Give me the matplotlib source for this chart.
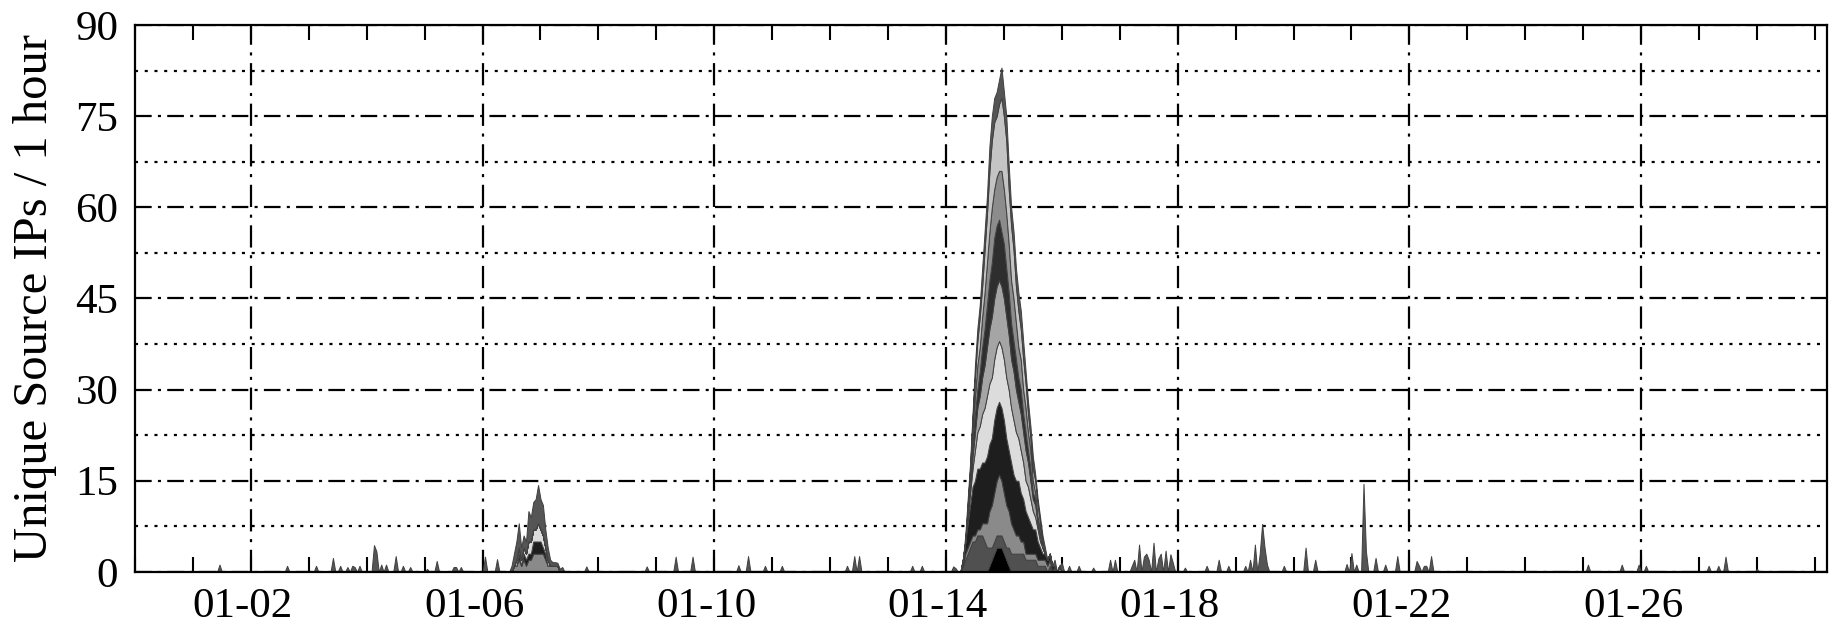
import matplotlib

matplotlib.use("Agg")

import matplotlib.dates as mdates
import matplotlib.pyplot as plt
import matplotlib.transforms as mtransforms
import numpy as np
import pandas as pd
from matplotlib.ticker import MultipleLocator

plt.rcParams["font.family"] = ["Liberation Serif", "DejaVu Serif"]
plt.rcParams["lines.scale_dashes"] = False

# hourly time axis of the capture
series_start = "2019-12-31 00:00"
series_end = "2020-01-29 05:00"

# layer colours, bottom to top
layer_colors = [
    "#000000", "#505050", "#8a8a8a", "#1e1e1e", "#dcdcdc",
    "#a5a5a5", "#2e2e2e", "#8c8c8c", "#c4c4c4", "#555555",
]

# main outbreak, hourly from 01-14 06:00
big_peak_start = "2020-01-14 06:00"
big_l1 = [0, 0, 0, 0, 0, 0, 0, 0, 0, 0, 0, 0, 1, 2, 3, 4, 4, 4, 3, 2, 1,
          0, 0, 0, 0, 0, 0, 0, 0, 0, 0, 0, 0, 0, 0, 0, 0, 0, 0, 0, 0, 0]
big_l2 = [0, 1, 2, 3, 4, 5, 5, 6, 6, 6, 5, 4, 3, 2, 2, 2, 2, 2, 2, 2, 3,
          3, 3, 3, 3, 3, 3, 2, 2, 2, 2, 2, 1, 1, 1, 1, 0, 1, 0, 1, 0, 0]
big_l3 = [0, 0, 1, 1, 1, 1, 1, 1, 1, 2, 3, 4, 6, 7, 8, 9, 10, 9, 8, 7, 6,
          5, 4, 3, 3, 2, 2, 1, 1, 1, 1, 1, 1, 1, 1, 1, 1, 1, 0, 0, 0, 1]
big_l4 = [0, 1, 2, 4, 6, 8, 9, 10, 10, 10, 10, 11, 11, 11, 12, 12, 12, 12, 12, 11, 10,
          10, 9, 9, 9, 8, 7, 7, 6, 5, 4, 4, 3, 2, 1, 1, 1, 1, 1, 0, 0, 0]
big_l5 = [0, 0, 0, 1, 2, 3, 5, 6, 7, 8, 9, 10, 10, 10, 10, 10, 10, 10, 10, 10, 10,
          9, 9, 8, 7, 7, 6, 5, 5, 4, 3, 2, 2, 1, 1, 0, 0, 0, 0, 0, 0, 0]
big_l6 = [0, 0, 0, 1, 1, 2, 3, 4, 5, 6, 7, 8, 9, 10, 10, 10, 10, 10, 10, 10, 9,
          8, 8, 7, 6, 6, 5, 5, 4, 3, 2, 2, 1, 1, 0, 0, 0, 0, 0, 0, 0, 0]
big_l7 = [0, 0, 0, 0, 1, 2, 3, 3, 4, 5, 6, 7, 8, 9, 10, 10, 10, 9, 9, 8, 7,
          6, 5, 5, 4, 4, 3, 3, 2, 2, 1, 1, 0, 0, 0, 0, 0, 0, 0, 0, 0, 0]
big_l8 = [0, 0, 0, 0, 1, 2, 3, 4, 4, 5, 6, 7, 8, 9, 8, 8, 8, 10, 9, 9, 8,
          7, 7, 6, 5, 5, 4, 4, 3, 3, 2, 1, 1, 1, 0, 0, 0, 0, 0, 0, 0, 0]
big_l9 = [0, 0, 0, 1, 1, 2, 3, 4, 5, 5, 7, 8, 10, 11, 11, 10, 11, 12, 12, 12, 9,
          9, 8, 6, 6, 5, 5, 4, 3, 2, 2, 2, 2, 1, 1, 0, 0, 0, 0, 0, 0, 0]
big_l10 = [0, 0, 1, 1, 1, 1, 2, 2, 2, 3, 3, 3, 4, 4, 4, 4, 4, 5, 4, 4, 4,
           3, 3, 3, 3, 3, 3, 2, 2, 2, 2, 1, 1, 1, 1, 1, 0, 0, 0, 1, 0, 0]

# smaller outbreak, hourly from 01-06 12:00
small_peak_start = "2020-01-06 12:00"
small_dark = [0, 0, 0, 1, 0, 1, 1, 1, 1, 2, 2, 2, 2, 1, 1, 0, 0, 0, 0, 0, 0, 0, 0]
small_gray = [0, 1, 1, 2, 1, 2, 1, 2, 2, 3, 3, 3, 3, 3, 2, 1, 1, 1, 1, 1, 0, 0, 0]
small_light = [0, 0, 1, 1, 1, 1, 1, 2, 2, 2, 2, 3, 2, 2, 1, 1, 0, 0, 0, 0, 0, 0, 0]
small_top = [1, 2, 3, 4, 2, 2, 2, 5, 4, 4.5, 5, 6.3, 5, 5, 3, 2, 1, 0.6, 0.6, 0.5,
             0.5, 0.8, 0]

# isolated spikes: hours after 12-31 00:00 and height
spike_hours = [
    35, 63, 75, 82, 85, 88, 90, 91, 93, 99, 100, 102, 104, 108, 111, 114, 121,
    125, 132, 133, 135, 145, 150, 187, 212, 224, 231, 250, 254, 261, 268, 295,
    298, 300, 322, 326, 339, 340, 384, 387, 391, 397, 404, 406, 413, 414, 416,
    418, 419, 420, 422, 424, 425, 427, 429, 430, 435, 444, 449, 453, 460, 462,
    464, 466, 467, 468, 469, 476, 485, 489, 502, 504, 506, 509, 510, 514, 518,
    523, 531, 532, 534, 535, 537, 602, 616, 623, 626, 652, 656, 659, 672,
]
spike_values = [
    1.2, 1, 1, 2.3, 1, 0.8, 1, 0.8, 1, 4.4, 3.4, 1.2, 1.2, 2.6, 1, 0.8, 0.5,
    1.8, 0.8, 0.8, 0.8, 2.5, 2.1, 0.9, 0.9, 2.5, 2.5, 1.1, 2.6, 1, 1, 1,
    2.6, 2.6, 1, 1, 0.9, 0.6, 1.5, 1, 1, 0.7, 2, 2, 1, 2, 4.5,
    2.5, 3, 2, 4.8, 2.2, 3, 3.5, 2.9, 1.5, 0.7, 1, 2, 1, 1, 2,
    4.5, 3, 7.9, 4, 1.2, 1, 4, 2, 1.3, 3.1, 1.2, 14.5, 3.4, 2.3, 1.2,
    2.6, 1.8, 1, 1, 1, 2.6, 1.2, 1.2, 1.2, 1, 1, 1, 2.5, 0.5,
]

y_ticks = [0, 15, 30, 45, 60, 75, 90]
x_label_days = [2, 6, 10, 14, 18, 22, 26]


def build_layers() -> tuple:
    """Place the read-off values on the hourly time axis."""

    times = pd.date_range(series_start, series_end, freq="h")
    layers = np.zeros((len(layer_colors), len(times)))

    big = [big_l1, big_l2, big_l3, big_l4, big_l5,
           big_l6, big_l7, big_l8, big_l9, big_l10]
    offset = times.get_loc(pd.Timestamp(big_peak_start))
    for k, values in enumerate(big):
        layers[k, offset:offset + len(values)] += values

    small = {3: small_dark, 2: small_gray, 4: small_light, 9: small_top}
    offset = times.get_loc(pd.Timestamp(small_peak_start))
    for k, values in small.items():
        layers[k, offset:offset + len(values)] += values

    for hour, value in zip(spike_hours, spike_values):
        layers[9, hour] += value

    return times, layers


times, layers = build_layers()

fig = plt.figure(figsize=(18.37, 6.34), dpi=100)
ax = fig.add_axes([0.0735, 0.098, 0.921, 0.8625])

ax.stackplot(
    times,
    layers,
    colors=layer_colors,
    edgecolor="#404040",
    linewidth=0.7,
    zorder=3,
)

ax.set_xlim(times[0], times[-1])
ax.set_ylim(0, 90)
ax.set_yticks(y_ticks)
ax.yaxis.set_minor_locator(MultipleLocator(7.5))

ax.xaxis.set_major_locator(mdates.DayLocator(bymonthday=x_label_days))
ax.xaxis.set_minor_locator(mdates.DayLocator())
ax.xaxis.set_major_formatter(mdates.DateFormatter("%m-%d"))

ax.grid(which="major", axis="y", color="black",
        linestyle=(0, (12, 4.5, 2.2, 4.5)), linewidth=1.6, zorder=1)
ax.grid(which="major", axis="x", color="black",
        linestyle=(0, (16, 5.5, 2.2, 5.5)), linewidth=1.6, zorder=1)
ax.grid(which="minor", axis="y", color="black",
        linestyle=(0, (2.2, 4.8)), linewidth=1.6, zorder=1)
ax.set_axisbelow(True)

ax.tick_params(axis="x", which="both", direction="in", top=True,
               length=11, width=1.5, labelsize=31, pad=11)
ax.tick_params(axis="y", which="both", length=0, labelsize=31, pad=12)

# date labels sit a little left of their grid line
shift = mtransforms.ScaledTranslation(-0.08, 0, fig.dpi_scale_trans)
for label in ax.get_xticklabels():
    label.set_transform(label.get_transform() + shift)

for spine in ax.spines.values():
    spine.set_linewidth(1.6)
    spine.set_zorder(4)

ax.set_ylabel("Unique Source IPs / 1 hour", fontsize=35, labelpad=13)

fig.savefig("out.png", dpi=100)
plt.close(fig)
